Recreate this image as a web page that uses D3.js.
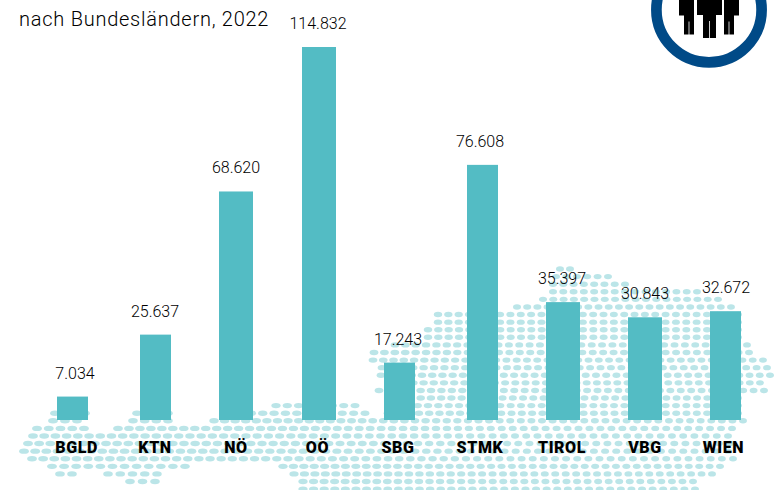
<!DOCTYPE html>
<html><head><meta charset="utf-8">
<script src="https://cdn.jsdelivr.net/npm/d3@7"></script>
<style>html,body{margin:0;padding:0;background:#fff}svg{display:block}text{font-family:Roboto,sans-serif}</style>
</head><body><svg id="c" width="778" height="490"></svg>
<script>
const subtitle = "nach Bundesländern, 2022";
const categories = ["BGLD","KTN","NÖ","OÖ","SBG","STMK","TIROL","VBG","WIEN"];
const values = [7034,25637,68620,114832,17243,76608,35397,30843,32672];
const valueLabels = ["7.034","25.637","68.620","114.832","17.243","76.608","35.397","30.843","32.672"];
// background dot map of Austria: [row, first x, last x]
const mapRows = [
[0,560,570],[1,556,608],[2,553,625],[3,553,697],[4,543,718],[5,517,731],[6,438,738],[7,438,738],
[8,428,738],[9,428,738],[10,395,747],[11,374,749],[12,373,763],[13,382,767],[14,381,770],[15,393,760],
[16,379,764],[17,390,738],[18,276,355],[18,397,738],[19,240,365],[19,388,738],[19,55,85],[19,137,168],
[20,53,77],[20,133,168],[20,214,743],[21,37,84],[21,118,732],[22,33,728],[23,28,730],[24,24,728],
[25,32,733],[26,52,185],[26,283,720],[27,60,72],[27,108,157],[27,294,712],[28,130,155],[28,303,693],[29,303,695]
];
const svg = d3.select("#c");
const rowY = d3.scaleLinear().domain([0,29]).range([269,489.1]);
const stepX = d3.scaleLinear().domain([0,300,500,778]).range([11.8,11.6,10.5,9.9]);
const dots = [];
mapRows.forEach(([r,a,b])=>{
  const n = Math.max(1, Math.round((b-a)/stepX((a+b)/2)));
  d3.range(n+1).forEach(j=>dots.push({x:a+(b-a)*j/n,y:rowY(r)}));
});
const rxS = d3.scaleLinear().domain([0,300,500,778]).range([4.9,4.6,4.0,3.9]);
svg.append("g").selectAll("ellipse").data(dots).join("ellipse")
  .attr("cx",d=>d.x).attr("cy",d=>d.y).attr("rx",d=>rxS(d.x)).attr("ry",2.7).attr("fill","#bbe5e8");

const y = d3.scaleLinear().domain([0,112000]).range([420,47]).clamp(true);
const barLeft = d3.scaleOrdinal().domain(categories).range([57,140,219,302,384,467,546,628,710]);
const barW = d3.scaleOrdinal().domain(categories).range([31,31,34,34,31,31,34,34,31]);
const labelX = d3.scaleOrdinal().domain(categories).range([76.7,155,236,317.5,398,480,562,645,723.5]);
const valueX = d3.scaleOrdinal().domain(categories).range([75,155,236,318,398,480,562,645,726]);
const data = categories.map((c,i)=>({c,v:values[i],l:valueLabels[i]}));

svg.append("g").selectAll("rect").data(data).join("rect")
  .attr("x",d=>barLeft(d.c)).attr("y",d=>y(d.v)).attr("width",d=>barW(d.c)).attr("height",d=>y(0)-y(d.v))
  .attr("fill","#53bcc4");
svg.append("g").selectAll("text").data(data).join("text")
  .attr("x",d=>valueX(d.c)).attr("y",d=>y(d.v)-18).attr("text-anchor","middle")
  .attr("font-size",16).attr("font-weight",300).attr("fill","#000").text(d=>d.l);
svg.append("g").selectAll("text").data(data).join("text")
  .attr("x",d=>labelX(d.c)).attr("y",453).attr("text-anchor","middle")
  .attr("font-size",16).attr("font-weight",900).attr("letter-spacing",0.6).attr("fill","#000").text(d=>d.c);
svg.append("text").attr("x",19).attr("y",26).attr("font-size",20).attr("font-weight",300).attr("letter-spacing",0.75).attr("fill","#000").text(subtitle);

// logo
const logo = svg.append("g");
logo.append("circle").attr("cx",709).attr("cy",9.7).attr("r",52.6).attr("fill","#fff").attr("stroke","#004a87").attr("stroke-width",10.7);
const figure = (x0,x1,tx0,tx1,armB,legB)=>{
  const m=(tx0+tx1)/2;
  return `M${x0},0H${x1}V${armB}H${tx1}V${legB}H${m+0.4}V${armB+6}H${m-0.4}V${legB}H${tx0}V${armB}H${x0}Z`;
};
logo.selectAll("path").data([[679,694,684,694,15.5,34.5],[697,722,703,716,15,38],[724,739,724,734,15.5,34.5]])
  .join("path").attr("d",d=>figure(...d)).attr("fill","#000");
</script></body></html>
